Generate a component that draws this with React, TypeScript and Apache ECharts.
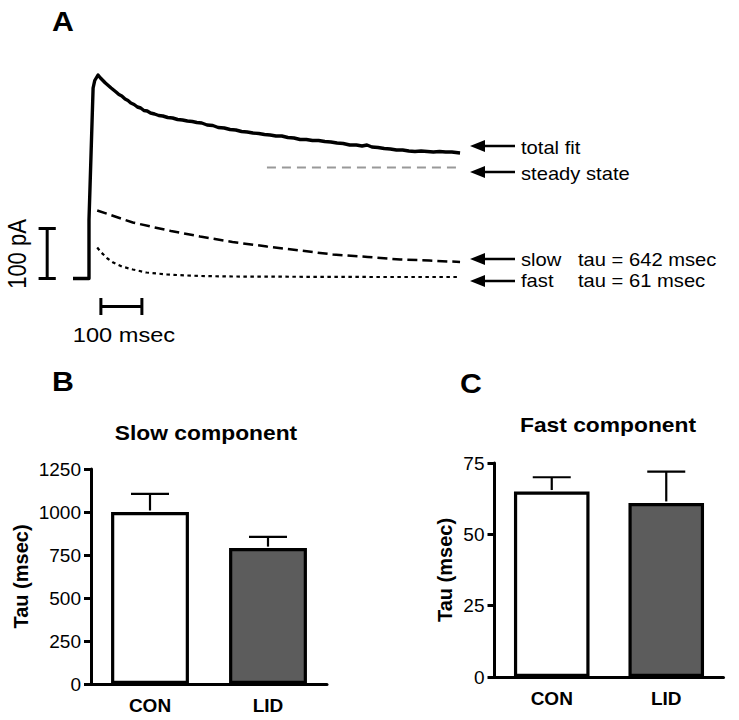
import React, { useEffect, useRef } from 'react';
import * as echarts from 'echarts';

// ---------- DATA ----------
// Panel A: current traces, [time (msec), current (pA)]
const totalFit: [number, number][] = [
  [-39, 0], [0, 0], [0, 117], [10, 381], [14, 396], [22, 407], [28, 401], [34, 396], [40, 391],
  [47, 386], [54, 381], [60, 377], [66, 373], [73, 368], [80, 365], [88, 359], [95, 356],
  [102, 351], [110, 348], [118, 343], [126, 341], [134, 336], [142, 335], [150, 331], [160, 329],
  [170, 326], [180, 325], [192, 322], [204, 321], [216, 318], [228, 317], [240, 315], [252, 314],
  [263, 312], [275, 311], [288, 307], [302, 306], [315, 302], [330, 301], [344, 298], [358, 297],
  [372, 294], [386, 293], [400, 291], [414, 290], [428, 288], [442, 287], [456, 285], [470, 285],
  [485, 282], [500, 281], [515, 278], [530, 278], [545, 276], [560, 276], [575, 274], [590, 273],
  [605, 271], [620, 270], [636, 267], [652, 267], [666, 265], [678, 267], [690, 263], [705, 262],
  [720, 260], [735, 259], [750, 257], [765, 257], [780, 255], [795, 254], [810, 255], [825, 254],
  [840, 253], [855, 254], [870, 253], [885, 253], [905, 251],
];
const steadyState: [number, number][] = [[434, 222], [898, 222]];
const slowComponent: [number, number][] = [
  [20, 136], [60, 125], [107, 112], [150, 104], [200, 95], [271, 84], [350, 73], [434, 64],
  [515, 56], [595, 48], [680, 43], [759, 38], [830, 36], [905, 33],
];
const fastComponent: [number, number][] = [
  [20, 62], [30, 52], [45, 40], [59, 32], [80, 24], [107, 18], [140, 12], [190, 8], [240, 6],
  [271, 5], [350, 4], [500, 3.5], [700, 3], [905, 3],
];
const scaleBarCurrent = 100; // pA
const scaleBarTime = 100; // msec
const slowTauLabel = 'tau = 642 msec';
const fastTauLabel = 'tau = 61 msec';

// Panels B and C
const categories = ['CON', 'LID'];
const slowTauMean = [1000, 790];
const slowTauSem = [105, 65];
const fastTauMean = [65, 61];
const fastTauSem = [5, 11];
const barColors = ['#ffffff', '#5c5c5c'];
const slowAxis = { min: 0, max: 1250, interval: 250 };
const fastAxis = { min: 0, max: 75, interval: 25 };

// ---------- LAYOUT (not data) ----------
const FONT = 'Liberation Sans, Arial, sans-serif';
const vBarT = -102; // where the vertical scale bar sits (msec)
const hBarStart = 29; // start of the horizontal scale bar (msec)
const hBarPA = -56; // level of horizontal scale bar (pA)

function lineSeries(data: [number, number][], style: any, name?: string) {
  return {
    type: 'line',
    name,
    xAxisIndex: 0,
    yAxisIndex: 0,
    data,
    symbol: 'none',
    lineStyle: style,
    silent: true,
  };
}

function errorSeries(grid: number, means: number[], sems: number[]) {
  return {
    type: 'custom',
    xAxisIndex: grid,
    yAxisIndex: grid,
    z: 5,
    silent: true,
    data: means.map((m, i) => [i, m, m + sems[i]]),
    encode: { x: 0, y: [1, 2] },
    renderItem: (params: any, api: any) => {
      const x = api.value(0);
      const p0 = api.coord([x, api.value(1)]);
      const p1 = api.coord([x, api.value(2)]);
      const st = { stroke: '#000', lineWidth: 2.2 };
      return {
        type: 'group',
        children: [
          { type: 'line', shape: { x1: p0[0], y1: p0[1] - 1.5, x2: p1[0], y2: p1[1] }, style: st },
          { type: 'line', shape: { x1: p1[0] - 19, y1: p1[1], x2: p1[0] + 19, y2: p1[1] }, style: st },
        ],
      };
    },
  };
}

function barSeries(grid: number, means: number[]) {
  return {
    type: 'bar',
    xAxisIndex: grid,
    yAxisIndex: grid,
    barWidth: '66%',
    silent: true,
    data: means.map((v, i) => ({
      value: v,
      itemStyle: { color: barColors[i], borderColor: '#000', borderWidth: 3.2 },
    })),
  };
}

function catAxis(grid: number) {
  return {
    type: 'category',
    gridIndex: grid,
    data: categories,
    axisLine: { lineStyle: { color: '#000', width: 3 } },
    axisTick: { alignWithLabel: true, length: 6, lineStyle: { color: '#000', width: 2.5 } },
    axisLabel: { color: '#000', fontFamily: FONT, fontWeight: 'bold', fontSize: 19, margin: 12 },
  };
}

function valAxis(grid: number, cfg: any, nameGap: number) {
  return {
    type: 'value',
    gridIndex: grid,
    min: cfg.min,
    max: cfg.max,
    interval: cfg.interval,
    name: 'Tau (msec)',
    nameLocation: 'middle',
    nameGap,
    nameTextStyle: { color: '#000', fontFamily: FONT, fontWeight: 'bold', fontSize: 20 },
    axisLine: { show: true, lineStyle: { color: '#000', width: 3 } },
    axisTick: { show: true, inside: false, length: 7, lineStyle: { color: '#000', width: 3 } },
    axisLabel: {
      color: '#000',
      fontFamily: FONT,
      fontSize: 19,
      margin: 10,
      formatter: (v: number) => String(v),
    },
    splitLine: { show: false },
  };
}

function txt(text: string, x: number, y: number, opts: any = {}) {
  const { fontSize = 18, fontWeight = 'normal', align = 'left', scaleX = 1.12, scaleY = 1, rotation = 0 } = opts;
  return {
    type: 'text',
    x,
    y,
    scaleX,
    scaleY,
    rotation,
    silent: true,
    style: {
      text,
      fill: '#000',
      font: `${fontWeight} ${fontSize}px ${FONT}`,
      textAlign: align,
      textVerticalAlign: 'middle',
    },
  };
}

function arrow(y: number) {
  const tip = 470;
  return [
    {
      type: 'polygon',
      silent: true,
      shape: { points: [[tip, y], [tip + 15, y - 6], [tip + 15, y + 6]] },
      style: { fill: '#000' },
    },
    {
      type: 'line',
      silent: true,
      shape: { x1: tip + 12, y1: y, x2: 515, y2: y },
      style: { stroke: '#000', lineWidth: 2.5 },
    },
  ];
}

export default function App() {
  const ref = useRef<HTMLDivElement>(null);
  useEffect(() => {
    if (!ref.current) return;
    const chart = echarts.init(ref.current, undefined, { renderer: 'svg' });
    const capT = 21; // half-width of vertical-bar caps, msec
    const capPA = 17; // half-height of horizontal-bar caps, pA
    const blk = { color: '#000', width: 3, type: 'solid' };
    chart.setOption({
      animation: false,
      backgroundColor: '#fff',
      grid: [
        { left: 27.5, top: 68.5, width: 438.7, height: 260 },
        { left: 91, top: 469, width: 236, height: 215 },
        { left: 494.5, top: 463, width: 229, height: 214 },
      ],
      xAxis: [
        { type: 'value', gridIndex: 0, min: -150, max: 920, show: false },
        catAxis(1),
        catAxis(2),
      ],
      yAxis: [
        { type: 'value', gridIndex: 0, min: -100, max: 420, show: false },
        valAxis(1, slowAxis, 60),
        valAxis(2, fastAxis, 40),
      ],
      series: [
        lineSeries(steadyState, { color: '#999999', width: 2, type: [9, 6] }, 'steady state'),
        lineSeries(slowComponent, { color: '#000', width: 2.5, type: [10, 5] }, 'slow'),
        lineSeries(fastComponent, { color: '#000', width: 2.2, type: [3.5, 3.5] }, 'fast'),
        lineSeries(totalFit, { color: '#000', width: 3.4, join: 'round' }, 'total fit'),
        // scale bars
        lineSeries([[vBarT, 0], [vBarT, scaleBarCurrent]], blk),
        lineSeries([[vBarT - capT, 0], [vBarT + capT, 0]], blk),
        lineSeries([[vBarT - capT, scaleBarCurrent], [vBarT + capT, scaleBarCurrent]], blk),
        lineSeries([[hBarStart, hBarPA], [hBarStart + scaleBarTime, hBarPA]], blk),
        lineSeries([[hBarStart, hBarPA - capPA], [hBarStart, hBarPA + capPA]], blk),
        lineSeries([[hBarStart + scaleBarTime, hBarPA - capPA], [hBarStart + scaleBarTime, hBarPA + capPA]], blk),
        barSeries(1, slowTauMean),
        errorSeries(1, slowTauMean, slowTauSem),
        barSeries(2, fastTauMean),
        errorSeries(2, fastTauMean, fastTauSem),
      ],
      graphic: [
        txt('A', 52, 21, { fontSize: 28, fontWeight: 'bold', scaleX: 1.08 }),
        txt('B', 52, 381, { fontSize: 28, fontWeight: 'bold', scaleX: 1.08 }),
        txt('C', 460, 383, { fontSize: 28, fontWeight: 'bold', scaleX: 1.08 }),
        txt(`${scaleBarCurrent} pA`, 17, 254, { fontSize: 22, align: 'center', rotation: Math.PI / 2, scaleX: 1, scaleY: 1.15 }),
        txt(`${scaleBarTime} msec`, 124, 335, { fontSize: 20, align: 'center', scaleX: 1.18 }),
        ...arrow(146),
        ...arrow(172),
        ...arrow(259),
        ...arrow(281),
        txt('total fit', 521, 148),
        txt('steady state', 521, 174),
        txt('slow', 521, 260),
        txt(slowTauLabel, 578, 260),
        txt('fast', 521, 281),
        txt(fastTauLabel, 578, 281),
        txt('Slow component', 206, 433, { fontSize: 20, fontWeight: 'bold', align: 'center', scaleX: 1.14 }),
        txt('Fast component', 608, 425, { fontSize: 20, fontWeight: 'bold', align: 'center', scaleX: 1.14 }),
      ],
    });
    return () => chart.dispose();
  }, []);
  return (
    <div
      ref={ref}
      style={{ position: 'absolute', left: 0, top: 0, width: 739, height: 720, background: '#fff' }}
    />
  );
}
